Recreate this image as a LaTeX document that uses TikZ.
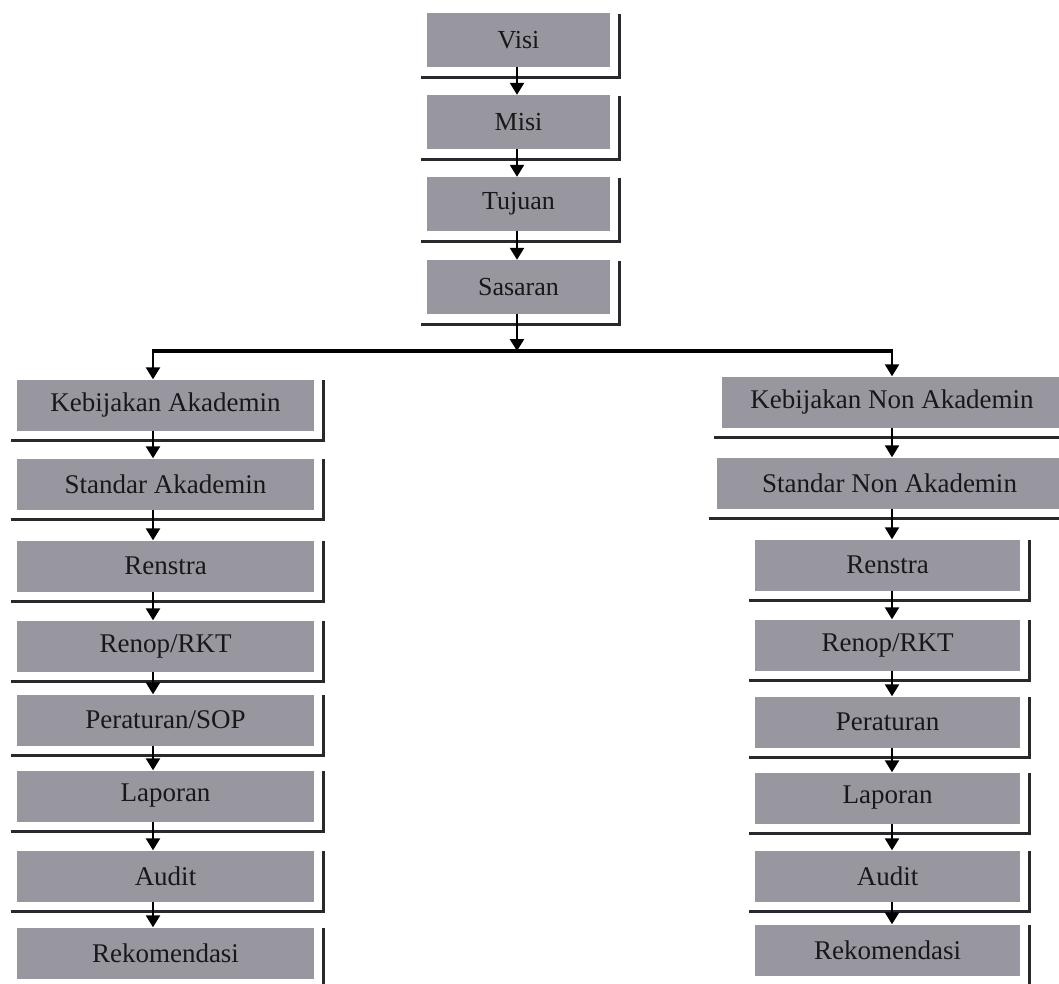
\documentclass[tikz,border=0pt]{standalone}
\usepackage{fontspec}
\setmainfont{Liberation Serif}
\usetikzlibrary{arrows.meta}
\definecolor{boxgray}{RGB}{152,150,158}
\definecolor{linegray}{RGB}{40,40,45}
\definecolor{txt}{RGB}{24,24,26}
\begin{document}
\begin{tikzpicture}[x=1pt,y=-1pt,
  topbox/.style={fill=boxgray,draw=none,inner sep=0pt,minimum width=183pt,minimum height=54pt,text=txt,font=\fontsize{26}{31}\selectfont},
  lbox/.style={fill=boxgray,draw=none,inner sep=0pt,minimum width=297pt,minimum height=51pt,text=txt,font=\fontsize{27}{32}\selectfont},
  rbox/.style={fill=boxgray,draw=none,inner sep=0pt,minimum width=265pt,minimum height=51pt,text=txt,font=\fontsize{27}{32}\selectfont},
  rwide/.style={fill=boxgray,draw=none,inner sep=0pt,minimum height=51pt,text=txt,font=\fontsize{27}{32}\selectfont},
  shadowline/.style={draw=linegray,line width=2.8pt},
  arr/.style={draw=black,line width=2.4pt,-{Triangle[width=14pt,length=12pt]}},
  hubline/.style={draw=black,line width=4.5pt}]
\useasboundingbox (0,0) rectangle (1059,983);
\clip (0,0) rectangle (1059,983);
\fill[white] (0,0) rectangle (1059,983);
% top column
\node[topbox] (visi) at (518.5,40) {Visi};
\node[topbox] (misi) at (518.5,122) {Misi};
\node[topbox] (tuju) at (518.5,204) {Tujuan};
\node[topbox] (sasa) at (518.5,287) {Sasaran};
% left column
\node[lbox] (lkeb) at (165.5,405) {Kebijakan Akademin};
\node[lbox] (lstd) at (165.5,484) {Standar Akademin};
\node[lbox] (lren) at (165.5,566) {Renstra};
\node[lbox] (lrkt) at (165.5,646) {Renop/RKT};
\node[lbox] (lsop) at (165.5,720) {Peraturan/SOP};
\node[lbox] (llap) at (165.5,796) {Laporan};
\node[lbox] (laud) at (165.5,876) {Audit};
\node[lbox] (lrek) at (165.5,953) {Rekomendasi};
% right column
\node[rwide,minimum width=340pt] (rkeb) at (892,402) {Kebijakan Non Akademin};
\node[rwide,minimum width=345pt] (rstd) at (889.5,483) {Standar Non Akademin};
\node[rbox] (rren) at (887.5,565) {Renstra};
\node[rbox] (rrkt) at (887.5,645) {Renop/RKT};
\node[rbox] (rper) at (887.5,722) {Peraturan};
\node[rbox] (rlap) at (887.5,798) {Laporan};
\node[rbox] (raud) at (887.5,876) {Audit};
\node[rbox] (rrek) at (887.5,950) {Rekomendasi};
% shadow frames
\foreach \n in {visi,misi,tuju,sasa,lkeb,lstd,lren,lrkt,lsop,llap,laud,lrek,rren,rrkt,rper,rlap,raud,rrek}
  \draw[shadowline] ([xshift=-6pt,yshift=-10pt]\n.south west) -- ([xshift=9pt,yshift=-10pt]\n.south east) -- ([xshift=9pt,yshift=-1pt]\n.north east);
\foreach \n in {rkeb,rstd}
  \draw[shadowline] ([xshift=-8pt,yshift=-10pt]\n.south west) -- ([xshift=9pt,yshift=-10pt]\n.south east) -- ([xshift=9pt,yshift=-1pt]\n.north east);
% arrow x positions
\coordinate (cx) at (517,0);
\coordinate (lx) at (153,0);
\coordinate (rx) at (892,0);
\coordinate (hub) at (517,351);
% top chain
\draw[arr] (visi.south -| cx) -- (misi.north -| cx);
\draw[arr] (misi.south -| cx) -- (tuju.north -| cx);
\draw[arr] (tuju.south -| cx) -- (sasa.north -| cx);
\draw[arr] (sasa.south -| cx) -- (hub);
% split
\draw[hubline] (lx |- hub) -- (rx |- hub);
\draw[arr] ([yshift=2pt]lx |- hub) -- (lkeb.north -| lx);
\draw[arr] ([yshift=2pt]rx |- hub) -- (rkeb.north -| rx);
% left chain
\draw[arr] (lkeb.south -| lx) -- (lstd.north -| lx);
\draw[arr] (lstd.south -| lx) -- (lren.north -| lx);
\draw[arr] (lren.south -| lx) -- (lrkt.north -| lx);
\draw[arr] (lrkt.south -| lx) -- (lsop.north -| lx);
\draw[arr] (lsop.south -| lx) -- (llap.north -| lx);
\draw[arr] (llap.south -| lx) -- (laud.north -| lx);
\draw[arr] (laud.south -| lx) -- (lrek.north -| lx);
% right chain
\draw[arr] (rkeb.south -| rx) -- (rstd.north -| rx);
\draw[arr] (rstd.south -| rx) -- (rren.north -| rx);
\draw[arr] (rren.south -| rx) -- (rrkt.north -| rx);
\draw[arr] (rrkt.south -| rx) -- (rper.north -| rx);
\draw[arr] (rper.south -| rx) -- (rlap.north -| rx);
\draw[arr] (rlap.south -| rx) -- (raud.north -| rx);
\draw[arr] (raud.south -| rx) -- (rrek.north -| rx);
\end{tikzpicture}
\end{document}
